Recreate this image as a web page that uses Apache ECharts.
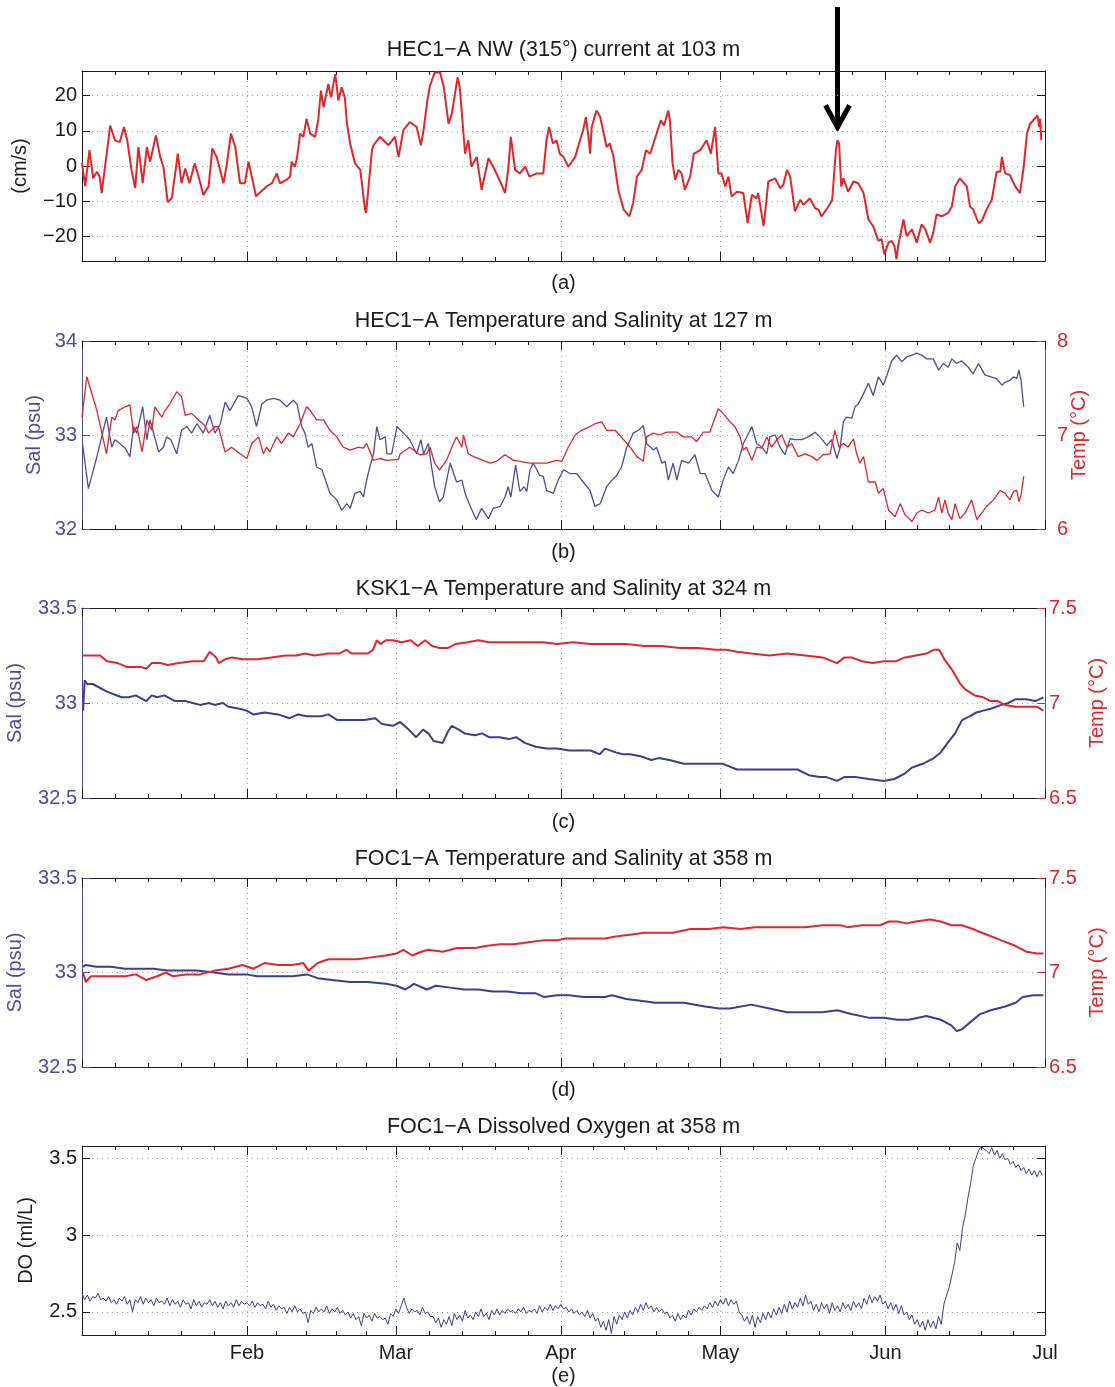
<!DOCTYPE html>
<html>
<head>
<meta charset="utf-8">
<title>Mooring records Jan-Jul</title>
<script src="https://cdn.jsdelivr.net/npm/echarts@6/dist/echarts.min.js"></script>
<style>
  html, body { margin: 0; padding: 0; background: #fff; }
  #chart { width: 1115px; height: 1387px; }
</style>
</head>
<body>
<div id="chart"></div>
<script>
// x is day of year, 0 = 1 Jan
var monthDays = [0, 31, 59, 90, 120, 151, 181];
var monthNames = ['Jan', 'Feb', 'Mar', 'Apr', 'May', 'Jun', 'Jul'];

var panelTitles = [
  'HEC1\u2212A NW (315\u00b0) current at 103 m',
  'HEC1\u2212A Temperature and Salinity at 127 m',
  'KSK1\u2212A Temperature and Salinity at 324 m',
  'FOC1\u2212A Temperature and Salinity at 358 m',
  'FOC1\u2212A Dissolved Oxygen at 358 m'
];
var panelTags = ['(a)', '(b)', '(c)', '(d)', '(e)'];

// (a) current, [day, cm/s]
var currentPts = [
  [0.0,0.8],[0.6,-5.8],[1.4,4.5],[2.1,-3.5],[2.8,-1.6],[3.3,-3.0],[3.7,-7.7],[5.3,11.5],[6.2,7.3],[7.1,6.8],
  [7.9,11.1],[8.5,7.3],[9.3,-1.1],[10.0,-6.3],[10.6,5.4],[11.4,-4.9],[12.2,5.4],[12.8,1.2],[13.9,8.7],[14.7,2.6],
  [15.3,-0.2],[16.1,-10.3],[16.9,-9.1],[18.0,3.5],[18.7,-4.9],[19.4,-0.7],[20.2,-4.9],[21.2,0.8],[21.9,-3.0],[22.8,-8.2],
  [23.8,-5.8],[24.5,5.0],[25.3,2.6],[26.6,-4.9],[27.2,0.3],[28.0,9.2],[28.8,5.4],[29.7,-4.9],[30.6,-4.9],[31.3,1.2],
  [31.9,-3.0],[32.7,-8.6],[34.7,-5.8],[35.7,-4.9],[36.6,-2.1],[37.2,-4.9],[38.5,-3.9],[39.1,-3.0],[39.4,1.2],[40.0,-0.2],
  [40.4,2.2],[41.0,9.2],[41.6,8.3],[42.2,13.4],[42.9,9.2],[43.8,8.3],[44.4,13.0],[44.9,21.4],[45.4,16.7],[46.3,23.3],
  [46.8,19.5],[47.6,26.1],[48.2,18.6],[48.8,22.4],[49.4,19.5],[49.8,12.0],[50.4,6.4],[51.3,0.8],[52.3,-1.1],[53.2,-12.4],
  [53.4,-13.3],[53.8,-6.8],[54.5,4.5],[54.8,5.9],[56.0,8.3],[57.6,5.9],[58.8,8.3],[59.5,2.6],[60.4,10.2],[61.6,12.5],
  [62.9,11.1],[63.7,5.9],[64.2,10.2],[64.9,18.6],[65.4,22.8],[66.3,26.6],[67.3,26.6],[68.0,22.4],[68.9,12.0],[69.5,14.8],
  [70.6,25.2],[71.0,22.4],[72.0,3.5],[72.6,7.3],[73.2,-0.2],[74.2,2.6],[75.1,-6.8],[75.4,-7.2],[76.4,2.2],[77.3,-0.2],
  [78.9,-5.4],[79.5,-7.7],[80.1,-1.1],[80.6,8.3],[81.4,-1.1],[82.3,-2.1],[83.3,-0.2],[84.1,-3.0],[85.5,-2.1],[86.7,-2.1],
  [87.3,7.3],[87.8,11.1],[88.5,6.4],[89.2,7.3],[89.8,3.5],[90.5,2.6],[91.4,-0.2],[92.7,2.6],[93.6,7.3],[94.2,10.2],
  [94.7,13.9],[95.2,8.3],[95.5,3.5],[95.8,11.1],[96.7,15.8],[97.4,13.9],[98.6,5.4],[99.2,6.4],[99.9,2.6],[100.8,-6.8],
  [101.8,-12.4],[102.9,-14.3],[103.6,-10.5],[104.3,-3.0],[105.2,-1.1],[106.0,4.5],[106.8,3.5],[107.4,6.4],[108.0,9.2],[108.8,13.0],
  [109.4,11.5],[110.2,15.8],[110.5,13.0],[111.0,0.8],[111.5,-3.9],[112.1,-1.1],[112.7,-2.1],[113.3,-6.8],[114.3,-3.0],[115.0,3.5],
  [116.2,4.5],[117.4,7.3],[118.2,3.5],[119.0,11.1],[119.6,-2.1],[120.2,-2.1],[120.9,-5.8],[121.5,-3.0],[122.1,-8.7],[123.1,-7.3],
  [124.3,-7.7],[125.1,-16.2],[125.9,-8.2],[126.8,-9.2],[127.1,-7.7],[128.1,-17.1],[128.4,-13.3],[129.0,-4.4],[130.3,-3.5],[131.2,-6.3],
  [131.8,-5.4],[132.5,-1.1],[133.1,-3.0],[134.0,-12.9],[135.0,-9.6],[135.6,-11.0],[136.8,-9.2],[137.8,-12.0],[138.4,-12.4],[139.0,-14.3],
  [140.3,-11.5],[141.0,-9.6],[141.7,4.5],[142.0,7.3],[142.3,6.4],[142.7,-5.8],[143.1,-3.5],[144.0,-7.3],[145.0,-4.4],[145.9,-4.9],
  [146.9,-7.7],[147.8,-15.2],[148.7,-17.1],[149.7,-21.3],[150.3,-20.8],[150.8,-25.1],[151.6,-21.8],[152.2,-21.3],[152.7,-22.7],[153.1,-26.5],
  [153.4,-22.7],[154.4,-15.2],[155.0,-19.9],[156.0,-18.0],[156.9,-21.8],[157.8,-16.6],[158.5,-18.0],[159.4,-21.8],[160.0,-19.0],[160.6,-13.8],
  [161.6,-14.3],[162.8,-13.3],[163.5,-11.5],[164.1,-5.8],[165.0,-3.5],[166.3,-5.8],[166.9,-11.5],[167.5,-12.4],[168.5,-16.2],[169.1,-15.7],
  [170.0,-12.4],[171.0,-9.6],[171.9,-1.6],[172.6,-1.6],[172.9,2.6],[173.5,-2.1],[174.4,-2.6],[175.4,-5.8],[176.3,-7.7],[177.0,-0.2],
  [177.6,9.2],[178.2,12.0],[179.6,14.4],[179.9,11.1],[180.1,13.4],[180.3,7.3]
];
var currentTicks = [-20, -10, 0, 10, 20];
// point the arrow marks
var arrowAt = [142.0, 7.3];

// (b) HEC1-A 127 m, [day, psu] and [day, degC]
var hecSal = [
  [0.1,32.91],[1.2,32.43],[2.8,32.77],[4.6,33.19],[5.6,32.87],[6.2,32.95],[7.1,32.91],[8.1,32.86],[9.0,32.77],[9.7,33.09],
  [10.3,33.02],[11.4,33.30],[12.2,32.95],[12.8,33.16],[14.4,32.82],[15.3,32.87],[15.9,32.98],[16.7,32.95],[17.8,32.80],[18.7,33.05],
  [19.7,33.09],[20.6,33.02],[21.6,33.12],[22.8,33.02],[24.0,33.21],[25.0,33.02],[26.0,33.12],[26.9,33.35],[27.8,33.26],[29.4,33.42],
  [31.0,33.39],[31.9,33.30],[32.8,33.09],[33.8,33.33],[34.7,33.37],[36.0,33.39],[37.2,33.37],[38.5,33.30],[39.7,33.37],[40.4,33.33],
  [41.3,33.09],[41.9,33.02],[42.5,32.87],[43.2,32.91],[44.1,32.66],[45.1,32.63],[46.6,32.38],[47.9,32.31],[48.8,32.20],[49.8,32.27],
  [50.4,32.22],[51.3,32.38],[52.3,32.40],[52.9,32.34],[53.5,32.52],[54.1,32.66],[54.8,32.80],[55.4,33.09],[56.0,32.95],[57.0,32.98],
  [57.3,32.80],[58.2,32.80],[59.2,33.09],[60.4,33.02],[61.6,32.95],[62.9,32.80],[63.7,32.95],[64.2,32.80],[65.1,32.91],[65.7,32.66],
  [66.3,32.45],[67.2,32.29],[67.9,32.34],[69.2,32.70],[70.4,32.50],[71.4,32.52],[72.0,32.38],[72.9,32.25],[74.1,32.10],[75.1,32.22],
  [76.4,32.11],[77.3,32.22],[78.6,32.24],[79.5,32.34],[80.1,32.45],[80.6,32.34],[81.5,32.68],[82.3,32.40],[83.1,32.45],[83.6,32.40],
  [84.2,32.63],[84.8,32.70],[85.5,32.63],[86.0,32.57],[86.7,32.56],[87.3,32.41],[88.6,32.38],[89.5,32.52],[90.5,32.63],[91.7,32.59],
  [93.0,32.59],[94.2,32.50],[95.5,32.41],[96.4,32.24],[97.4,32.27],[98.6,32.45],[99.6,32.52],[100.5,32.57],[101.4,32.66],[102.4,32.87],
  [103.6,33.02],[104.6,33.05],[105.5,33.10],[106.1,32.91],[107.4,32.84],[108.0,32.87],[109.0,32.70],[109.6,32.72],[110.2,32.52],[111.1,32.70],
  [111.8,32.52],[112.7,32.73],[114.0,32.70],[115.2,32.79],[116.2,32.59],[117.1,32.59],[118.4,32.41],[119.6,32.34],[120.5,32.52],[121.5,32.66],
  [122.4,32.59],[123.4,32.73],[124.3,32.91],[125.3,33.02],[125.9,33.09],[126.8,32.91],[127.8,32.87],[128.7,32.80],[129.3,32.98],[130.3,33.00],
  [131.2,32.87],[132.1,32.79],[133.1,32.96],[134.0,32.95],[135.3,32.95],[136.5,32.98],[137.8,33.03],[138.7,32.98],[140.0,32.89],[140.9,32.95],
  [141.9,32.75],[142.5,32.87],[143.1,33.14],[143.7,33.19],[144.7,33.18],[145.3,33.30],[145.9,33.33],[146.9,33.44],[147.8,33.55],[148.7,33.42],
  [149.7,33.62],[150.6,33.53],[151.2,33.62],[152.2,33.79],[153.1,33.85],[154.1,33.78],[155.0,33.83],[156.0,33.85],[156.9,33.87],[157.8,33.85],
  [158.8,33.81],[160.0,33.81],[161.0,33.69],[161.9,33.76],[162.8,33.72],[163.5,33.81],[164.4,33.76],[165.3,33.79],[166.6,33.72],[167.5,33.65],
  [168.5,33.76],[169.7,33.64],[170.7,33.62],[171.9,33.60],[172.9,33.53],[173.5,33.56],[174.4,33.58],[175.1,33.62],[175.7,33.60],[176.1,33.69],
  [176.5,33.58],[177.0,33.30]
];
var hecTemp = [
  [0.0,7.19],[0.9,7.62],[2.8,7.26],[4.6,6.80],[5.6,7.19],[6.2,7.16],[6.8,7.26],[8.1,7.30],[9.0,7.32],[9.7,7.02],
  [10.3,7.09],[11.3,6.82],[12.2,7.16],[13.1,7.05],[13.7,7.30],[15.0,7.19],[15.6,7.26],[16.5,7.33],[17.8,7.46],[18.7,7.41],
  [19.4,7.21],[20.6,7.23],[21.9,7.16],[23.1,7.10],[23.8,7.02],[25.0,7.09],[25.6,7.09],[26.9,6.82],[28.1,6.87],[29.7,6.80],
  [31.0,6.75],[31.9,6.91],[33.2,6.98],[34.1,6.80],[34.7,6.87],[35.3,6.82],[36.6,6.98],[37.5,6.91],[38.8,7.02],[39.7,6.98],
  [41.0,7.12],[42.2,7.30],[42.9,7.26],[44.1,7.16],[45.4,7.16],[46.6,7.05],[47.9,6.98],[49.1,6.87],[50.4,6.84],[52.0,6.87],
  [52.9,6.86],[53.5,6.91],[54.8,6.73],[56.0,6.75],[57.3,6.73],[59.5,6.74],[59.8,6.80],[61.6,6.87],[63.5,6.79],[64.8,6.80],
  [65.4,6.87],[66.3,6.70],[67.2,6.63],[68.5,6.73],[69.8,6.91],[70.4,6.98],[71.4,6.87],[71.7,7.00],[72.6,6.80],[73.6,6.77],
  [75.4,6.73],[76.7,6.70],[77.9,6.72],[79.5,6.79],[81.1,6.73],[82.3,6.72],[84.2,6.70],[85.5,6.70],[87.3,6.70],[89.2,6.73],
  [90.2,6.72],[91.4,6.87],[92.7,7.00],[93.9,7.05],[95.5,7.09],[96.4,7.12],[97.7,7.14],[98.6,7.05],[100.2,7.05],[101.8,6.95],
  [103.0,6.87],[104.3,6.77],[105.5,6.72],[106.1,6.98],[107.4,7.02],[108.6,7.00],[109.9,7.03],[111.8,7.03],[113.0,6.98],[114.6,6.98],
  [115.5,6.93],[116.8,7.03],[118.0,7.03],[119.6,7.28],[120.5,7.23],[121.8,7.14],[122.7,7.09],[123.7,6.98],[124.3,6.84],[124.9,6.87],
  [125.9,6.73],[126.8,6.87],[127.8,6.86],[128.7,6.98],[129.6,6.87],[130.6,6.95],[131.5,7.00],[132.5,6.87],[133.4,6.91],[134.6,6.77],
  [135.9,6.80],[137.2,6.77],[138.1,6.73],[139.3,6.79],[140.6,6.80],[141.5,7.05],[142.3,6.87],[143.1,6.91],[144.0,6.87],[145.0,6.96],
  [145.6,6.80],[146.2,6.70],[146.9,6.77],[147.8,6.50],[149.1,6.50],[149.7,6.38],[150.6,6.43],[151.6,6.20],[152.8,6.13],[153.8,6.27],
  [154.7,6.15],[156.0,6.08],[156.9,6.17],[157.8,6.20],[159.1,6.17],[160.3,6.20],[161.0,6.34],[161.6,6.17],[162.2,6.31],[162.8,6.17],
  [163.5,6.10],[164.1,6.27],[165.0,6.11],[166.0,6.17],[167.2,6.31],[168.2,6.10],[169.1,6.17],[170.0,6.24],[171.3,6.31],[172.6,6.41],
  [173.5,6.38],[174.4,6.31],[175.1,6.40],[175.7,6.41],[176.1,6.29],[176.5,6.36],[177.0,6.56]
];

// (c) KSK1-A 324 m
var kskSal = [
  [0.2,32.96],[0.5,33.12],[1.0,33.10],[2.0,33.10],[4.7,33.06],[7.4,33.03],[8.8,33.03],[10.1,33.04],[12.1,33.01],[13.1,33.04],
  [14.1,33.03],[15.5,33.04],[17.5,33.01],[19.5,33.01],[20.8,33.00],[22.2,32.99],[23.9,33.00],[24.9,32.99],[26.5,33.00],[27.5,32.98],
  [29.6,32.97],[30.9,32.96],[32.2,32.94],[34.3,32.95],[36.9,32.94],[39.0,32.92],[40.6,32.94],[42.3,32.93],[45.0,32.93],[46.3,32.94],
  [48.0,32.91],[50.4,32.91],[53.1,32.91],[55.1,32.92],[56.4,32.89],[58.4,32.88],[59.8,32.90],[61.4,32.86],[62.8,32.82],[64.1,32.86],
  [65.1,32.84],[66.1,32.80],[67.8,32.79],[68.8,32.85],[69.5,32.88],[70.8,32.86],[71.9,32.84],[73.9,32.83],[75.2,32.84],[76.5,32.82],
  [78.5,32.82],[80.2,32.81],[81.6,32.82],[83.2,32.79],[85.3,32.77],[87.3,32.76],[89.3,32.76],[91.6,32.75],[94.3,32.75],[95.6,32.75],
  [97.3,32.73],[98.3,32.76],[100.3,32.74],[101.7,32.73],[103.0,32.73],[105.0,32.72],[107.0,32.70],[108.4,32.71],[110.4,32.70],[113.1,32.68],
  [115.8,32.68],[118.4,32.68],[120.5,32.68],[123.1,32.65],[125.8,32.65],[127.8,32.65],[129.9,32.65],[133.2,32.65],[134.5,32.65],[136.6,32.62],
  [138.6,32.61],[139.9,32.61],[141.9,32.59],[143.3,32.61],[145.3,32.61],[147.9,32.60],[150.7,32.59],[152.7,32.60],[154.7,32.63],[156.0,32.66],
  [158.0,32.68],[160.1,32.71],[161.4,32.74],[162.7,32.79],[164.1,32.84],[165.4,32.91],[166.8,32.93],[168.1,32.95],[169.4,32.96],[170.8,32.97],
  [172.8,32.99],[174.1,33.00],[175.5,33.02],[177.5,33.02],[179.2,33.01],[180.7,33.03]
];
var kskTemp = [
  [0.2,7.25],[2.0,7.25],[3.4,7.25],[4.7,7.22],[6.7,7.21],[8.4,7.19],[9.8,7.19],[11.1,7.19],[12.1,7.18],[13.1,7.21],
  [14.8,7.21],[16.1,7.20],[18.2,7.21],[20.8,7.22],[22.9,7.22],[24.0,7.27],[25.2,7.24],[25.7,7.21],[26.9,7.23],[28.2,7.24],
  [30.2,7.23],[31.6,7.23],[32.9,7.23],[35.6,7.24],[38.3,7.25],[40.3,7.25],[42.0,7.26],[43.7,7.25],[46.3,7.26],[48.3,7.26],
  [49.7,7.28],[50.7,7.26],[51.7,7.26],[53.7,7.26],[54.7,7.28],[55.4,7.33],[56.1,7.31],[57.1,7.33],[58.4,7.33],[60.1,7.32],
  [61.8,7.33],[63.1,7.30],[64.5,7.33],[65.8,7.30],[67.1,7.29],[68.8,7.29],[70.2,7.31],[72.5,7.32],[74.5,7.33],[76.5,7.32],
  [78.5,7.32],[81.2,7.32],[83.9,7.32],[86.6,7.32],[89.3,7.31],[92.3,7.32],[95.6,7.31],[99.0,7.31],[102.3,7.31],[105.7,7.30],
  [109.0,7.30],[112.4,7.29],[115.8,7.29],[119.1,7.28],[121.1,7.28],[123.1,7.27],[125.8,7.26],[129.2,7.25],[132.5,7.26],[135.9,7.25],
  [139.2,7.24],[141.9,7.21],[143.3,7.24],[144.6,7.24],[146.6,7.22],[148.6,7.21],[150.7,7.22],[153.0,7.22],[154.7,7.24],[156.7,7.25],
  [158.7,7.26],[160.1,7.28],[161.1,7.28],[162.1,7.23],[163.4,7.18],[165.1,7.10],[166.1,7.07],[167.8,7.04],[169.4,7.03],[170.8,7.01],
  [172.1,7.01],[173.5,6.99],[175.5,6.98],[177.5,6.98],[179.5,6.98],[180.7,6.96]
];

// (d) FOC1-A 358 m
var focSal = [
  [0.2,33.03],[0.7,33.04],[2.7,33.03],[5.4,33.03],[8.1,33.02],[11.4,33.02],[13.4,33.02],[16.1,33.01],[18.2,33.01],[21.5,33.01],
  [24.9,33.00],[27.5,32.99],[30.9,32.99],[32.9,32.98],[36.3,32.98],[39.6,32.98],[42.3,32.99],[44.3,32.97],[47.0,32.96],[50.4,32.95],
  [53.7,32.95],[57.1,32.94],[59.1,32.93],[60.8,32.91],[62.4,32.94],[64.8,32.91],[66.5,32.93],[69.2,32.92],[71.8,32.91],[74.5,32.91],
  [77.2,32.90],[79.9,32.90],[82.6,32.89],[85.3,32.89],[86.9,32.87],[89.3,32.88],[91.6,32.88],[94.3,32.87],[98.3,32.87],[99.6,32.88],
  [102.3,32.86],[105.0,32.85],[107.7,32.84],[110.4,32.84],[113.1,32.84],[117.1,32.82],[119.8,32.81],[121.8,32.81],[125.8,32.83],[129.2,32.81],
  [132.5,32.79],[135.9,32.79],[139.2,32.79],[141.9,32.80],[144.6,32.78],[148.0,32.76],[150.7,32.76],[153.3,32.75],[155.4,32.75],[158.7,32.77],
  [161.4,32.75],[163.4,32.72],[164.4,32.69],[165.4,32.70],[167.1,32.74],[168.8,32.78],[170.8,32.80],[173.5,32.82],[175.5,32.84],[176.8,32.87],
  [178.8,32.88],[180.7,32.88]
];
var focTemp = [
  [0.2,7.00],[0.7,6.95],[1.7,6.98],[4.1,6.98],[5.4,6.98],[8.1,6.98],[10.1,6.99],[12.1,6.96],[14.1,6.98],[15.8,7.00],
  [17.1,6.98],[19.5,6.99],[22.2,6.99],[24.9,7.01],[27.5,7.02],[30.2,7.04],[32.2,7.02],[34.3,7.05],[36.9,7.04],[39.6,7.04],
  [41.6,7.05],[42.6,7.01],[44.3,7.05],[46.3,7.07],[49.0,7.07],[51.7,7.07],[54.4,7.08],[57.1,7.09],[59.1,7.10],[60.4,7.12],
  [62.1,7.09],[63.8,7.11],[65.1,7.12],[67.8,7.11],[70.5,7.13],[73.9,7.13],[75.9,7.14],[78.5,7.15],[81.2,7.15],[83.9,7.16],
  [86.6,7.17],[89.3,7.17],[90.9,7.18],[92.9,7.18],[95.6,7.18],[98.3,7.18],[100.3,7.19],[103.0,7.20],[105.7,7.21],[108.4,7.21],
  [111.1,7.21],[114.4,7.23],[117.8,7.23],[120.5,7.24],[123.8,7.23],[126.5,7.24],[129.2,7.24],[132.5,7.24],[135.9,7.24],[139.2,7.25],
  [142.6,7.25],[143.9,7.24],[146.6,7.25],[150.0,7.25],[151.7,7.27],[153.3,7.27],[155.0,7.26],[156.7,7.27],[159.4,7.28],[161.4,7.27],
  [163.4,7.25],[165.4,7.25],[167.4,7.23],[170.1,7.20],[172.8,7.17],[175.5,7.14],[177.5,7.11],[179.5,7.10],[180.7,7.10]
];

// (e) dissolved oxygen, one value every half day from 1 Jan
var doStep = 0.5;
var doVals = [
  2.62,2.58, 2.61,2.57, 2.60,2.59, 2.62,2.58, 2.59,2.57, 2.60,2.56, 2.58,2.55, 2.59,2.57, 2.60,2.55, 2.58,2.50,
  2.58,2.56, 2.60,2.55, 2.59,2.56, 2.58,2.54, 2.59,2.56, 2.57,2.55, 2.59,2.54, 2.58,2.55, 2.57,2.53, 2.58,2.55,
  2.56,2.52, 2.58,2.54, 2.57,2.53, 2.56,2.55, 2.58,2.54, 2.57,2.53, 2.56,2.52, 2.57,2.54, 2.56,2.53, 2.58,2.54,
  2.57,2.55, 2.56,2.54, 2.57,2.53, 2.56,2.54, 2.55,2.52, 2.57,2.53, 2.55,2.51, 2.54,2.52, 2.53,2.49, 2.53,2.50,
  2.54,2.50, 2.52,2.49, 2.50,2.43, 2.51,2.49, 2.53,2.50, 2.52,2.50, 2.54,2.49, 2.52,2.50, 2.53,2.49, 2.51,2.48,
  2.50,2.46, 2.49,2.45, 2.47,2.41, 2.49,2.46, 2.48,2.44, 2.49,2.46, 2.47,2.45, 2.46,2.42, 2.49,2.47, 2.52,2.49,
  2.54,2.59, 2.53,2.49, 2.52,2.50, 2.51,2.48, 2.53,2.49, 2.50,2.47, 2.47,2.43, 2.46,2.40, 2.45,2.42, 2.47,2.41,
  2.49,2.45, 2.48,2.44, 2.51,2.46, 2.48,2.45, 2.50,2.47, 2.52,2.47, 2.49,2.45, 2.51,2.48, 2.52,2.48, 2.51,2.49,
  2.52,2.50, 2.51,2.49, 2.52,2.50, 2.53,2.49, 2.51,2.50, 2.52,2.49, 2.54,2.50, 2.53,2.51, 2.55,2.51, 2.54,2.52,
  2.55,2.52, 2.53,2.50, 2.52,2.49, 2.51,2.48, 2.50,2.47, 2.51,2.46, 2.49,2.44, 2.46,2.40, 2.44,2.38, 2.45,2.36,
  2.47,2.42, 2.48,2.45, 2.50,2.46, 2.51,2.48, 2.53,2.50, 2.55,2.51, 2.56,2.52, 2.54,2.50, 2.53,2.50, 2.52,2.49,
  2.50,2.46, 2.48,2.44, 2.49,2.45, 2.48,2.46, 2.51,2.48, 2.52,2.50, 2.53,2.51, 2.54,2.52, 2.56,2.53, 2.57,2.54,
  2.58,2.55, 2.59,2.54, 2.58,2.55, 2.57,2.50, 2.48,2.44, 2.47,2.42, 2.48,2.40, 2.47,2.43, 2.49,2.45, 2.50,2.46,
  2.52,2.48, 2.53,2.49, 2.55,2.50, 2.57,2.52, 2.56,2.53, 2.59,2.54, 2.61,2.55, 2.57,2.51, 2.55,2.50, 2.56,2.52,
  2.55,2.49, 2.56,2.51, 2.54,2.50, 2.56,2.52, 2.55,2.51, 2.57,2.53, 2.56,2.52, 2.59,2.55, 2.61,2.56, 2.60,2.57,
  2.61,2.55, 2.57,2.52, 2.56,2.51, 2.55,2.49, 2.54,2.48, 2.50,2.45, 2.48,2.42, 2.45,2.40, 2.44,2.38, 2.45,2.40,
  2.44,2.39, 2.47,2.42, 2.55,2.61, 2.66,2.74, 2.82,2.95, 2.90,3.05, 3.13,3.24, 3.33,3.45, 3.50,3.55, 3.58,3.56,
  3.55,3.53, 3.57,3.52, 3.55,3.50, 3.53,3.49, 3.50,3.46, 3.48,3.44, 3.46,3.42, 3.44,3.40, 3.43,3.39, 3.42,3.38,
  3.42,3.39
];
var doTicks = [2.5, 3, 3.5];

// ---- layout / style ----
var FONT = '"Liberation Sans", Arial, sans-serif';
var INK = '#1c1c1c', RED = '#e4262a', BLUE = '#3d3d96', LBLUE = '#4c4ca0';
var GRIDC = '#9c9c9c';
var plotLeft = 82, plotRight = 70, midX = 563.5;
var panelTop = [71, 341, 608, 878, 1146];
var panelH = [190, 188, 190, 189, 189];
var titleY = [50, 321, 589, 859, 1127];
var tagY = [283, 552, 822, 1090, 1376];

var minorDays = [];
for (var m = 0; m < monthDays.length - 1; m++) {
  var len = monthDays[m + 1] - monthDays[m];
  for (var k = 1; k < 5; k++) minorDays.push(monthDays[m] + len * k / 5);
}

function fmtMinus(v) {
  return v < 0 ? '\u2212' + Math.abs(v) : String(v);
}

function xAxesFor(gi, withLabels) {
  function ax(pos, major, extra) {
    var o = {
      type: 'value', gridIndex: gi, min: 0, max: 181, position: pos,
      axisLine: { show: false, onZero: false },
      axisTick: {
        inside: true, length: major ? 9 : 4,
        customValues: major ? monthDays : minorDays,
        lineStyle: { color: INK, width: 1 }
      },
      axisLabel: { show: false },
      splitLine: { show: false }
    };
    return Object.assign(o, extra || {});
  }
  return [
    ax('bottom', true, {
      axisLine: { show: true, onZero: false, lineStyle: { color: INK, width: 1 } },
      axisLabel: {
        show: withLabels, customValues: monthDays.slice(1), margin: 8,
        fontSize: 20, color: INK, fontFamily: FONT,
        formatter: function (v) { return monthNames[monthDays.indexOf(v)]; }
      },
      splitLine: { show: true, lineStyle: { color: GRIDC, width: 1, type: [1, 4] } }
    }),
    ax('bottom', false),
    ax('top', true, {
      axisLine: { show: true, onZero: false, lineStyle: { color: INK, width: 1 } }
    }),
    ax('top', false)
  ];
}

function yAxisFor(gi, pos, cfg) {
  var o = {
    type: 'value', gridIndex: gi, position: pos,
    min: cfg.min, max: cfg.max,
    axisLine: { show: true, onZero: false, lineStyle: { color: cfg.lineColor || INK, width: 1 } },
    axisTick: { inside: true, length: 8, lineStyle: { color: cfg.lineColor || INK } },
    axisLabel: {
      show: !!cfg.labels, margin: cfg.margin || 5, fontSize: 20,
      color: cfg.labelColor || INK, fontFamily: FONT, formatter: fmtMinus
    },
    splitLine: { show: !!cfg.split, lineStyle: { color: cfg.splitColor || GRIDC, width: 1, type: [1, 4] } }
  };
  if (cfg.interval != null) o.interval = cfg.interval;
  if (cfg.ticks) {
    o.axisTick.customValues = cfg.ticks;
    o.axisLabel.customValues = cfg.ticks;
  }
  if (cfg.name) {
    o.name = cfg.name;
    o.nameLocation = 'middle';
    o.nameRotate = 90;
    o.nameGap = cfg.nameGap;
    o.nameMoveOverlap = false;
    o.nameTextStyle = { fontSize: 20, color: cfg.nameColor || INK, fontFamily: FONT };
  }
  return o;
}

var grids = [], xAxes = [], yAxes = [];
for (var g = 0; g < 5; g++) {
  grids.push({ left: plotLeft, right: plotRight, top: panelTop[g], height: panelH[g], outerBoundsMode: 'none', containLabel: false });
  xAxes = xAxes.concat(xAxesFor(g, g === 4));
}

// (a)
yAxes.push(yAxisFor(0, 'left', { min: -27, max: 27, ticks: currentTicks, labels: true, split: true, name: '(cm/s)', nameGap: 52 }));
yAxes.push(yAxisFor(0, 'right', { min: -27, max: 27, ticks: currentTicks }));
// (b)
yAxes.push(yAxisFor(1, 'left', { min: 32, max: 34, interval: 1, labels: true, lineColor: LBLUE, labelColor: LBLUE, name: 'Sal (psu)', nameColor: LBLUE, nameGap: 38 }));
yAxes.push(yAxisFor(1, 'right', { min: 6, max: 8, interval: 1, labels: true, margin: 12, lineColor: RED, labelColor: RED, split: true, splitColor: '#c99', name: 'Temp (\u00b0C)', nameColor: RED, nameGap: 24 }));
// (c)
yAxes.push(yAxisFor(2, 'left', { min: 32.5, max: 33.5, interval: 0.5, labels: true, lineColor: LBLUE, labelColor: LBLUE, name: 'Sal (psu)', nameColor: LBLUE, nameGap: 57 }));
yAxes.push(yAxisFor(2, 'right', { min: 6.5, max: 7.5, interval: 0.5, labels: true, margin: 4, lineColor: RED, labelColor: RED, split: true, splitColor: '#c99', name: 'Temp (\u00b0C)', nameColor: RED, nameGap: 42 }));
// (d)
yAxes.push(yAxisFor(3, 'left', { min: 32.5, max: 33.5, interval: 0.5, labels: true, lineColor: LBLUE, labelColor: LBLUE, name: 'Sal (psu)', nameColor: LBLUE, nameGap: 57 }));
yAxes.push(yAxisFor(3, 'right', { min: 6.5, max: 7.5, interval: 0.5, labels: true, margin: 4, lineColor: RED, labelColor: RED, split: true, splitColor: '#c99', name: 'Temp (\u00b0C)', nameColor: RED, nameGap: 42 }));
// (e)
yAxes.push(yAxisFor(4, 'left', { min: 2.35, max: 3.58, ticks: doTicks, labels: true, split: true, name: 'DO (ml/L)', nameGap: 46 }));
yAxes.push(yAxisFor(4, 'right', { min: 2.35, max: 3.58, ticks: doTicks }));

function lineSeries(name, gi, yi, data, color, width) {
  return {
    name: name, type: 'line', xAxisIndex: gi * 4, yAxisIndex: yi,
    data: data, showSymbol: false, symbol: 'none', silent: true,
    lineStyle: { color: color, width: width }, itemStyle: { color: color }
  };
}

var doPts = doVals.map(function (v, i) { return [i * doStep, v]; });

var series = [
  lineSeries('current', 0, 0, currentPts, RED, 2),
  lineSeries('HEC1 sal', 1, 2, hecSal, LBLUE, 1.3),
  lineSeries('HEC1 temp', 1, 3, hecTemp, RED, 1.3),
  lineSeries('KSK1 sal', 2, 4, kskSal, BLUE, 2),
  lineSeries('KSK1 temp', 2, 5, kskTemp, RED, 2),
  lineSeries('FOC1 sal', 3, 6, focSal, BLUE, 2),
  lineSeries('FOC1 temp', 3, 7, focTemp, RED, 2),
  lineSeries('FOC1 DO', 4, 8, doPts, BLUE, 1)
];

var texts = [];
for (var i = 0; i < 5; i++) {
  texts.push({ type: 'text', x: midX, y: titleY[i], silent: true,
    style: { text: panelTitles[i], fill: INK, font: '21.5px ' + FONT, align: 'center', verticalAlign: 'middle' } });
  texts.push({ type: 'text', x: midX, y: tagY[i], silent: true,
    style: { text: panelTags[i], fill: INK, font: '20px ' + FONT, align: 'center', verticalAlign: 'middle' } });
}

var chart = echarts.init(document.getElementById('chart'), null, { renderer: 'canvas' });
chart.setOption({
  animation: false,
  backgroundColor: '#fff',
  textStyle: { fontFamily: FONT },
  grid: grids,
  xAxis: xAxes,
  yAxis: yAxes,
  series: series,
  graphic: texts
});

// arrow pointing at the late-May current spike
var tip = chart.convertToPixel({ xAxisIndex: 0, yAxisIndex: 0 }, arrowAt);
chart.setOption({
  graphic: texts.concat([
    { type: 'line', silent: true, shape: { x1: tip[0], y1: 7, x2: tip[0], y2: tip[1] - 15 },
      style: { stroke: '#000', lineWidth: 5 } },
    { type: 'polyline', silent: true,
      shape: { points: [[tip[0] - 12, tip[1] - 35], [tip[0], tip[1] - 13], [tip[0] + 12, tip[1] - 35]] },
      style: { stroke: '#000', lineWidth: 5, fill: null } }
  ])
});
</script>
</body>
</html>
